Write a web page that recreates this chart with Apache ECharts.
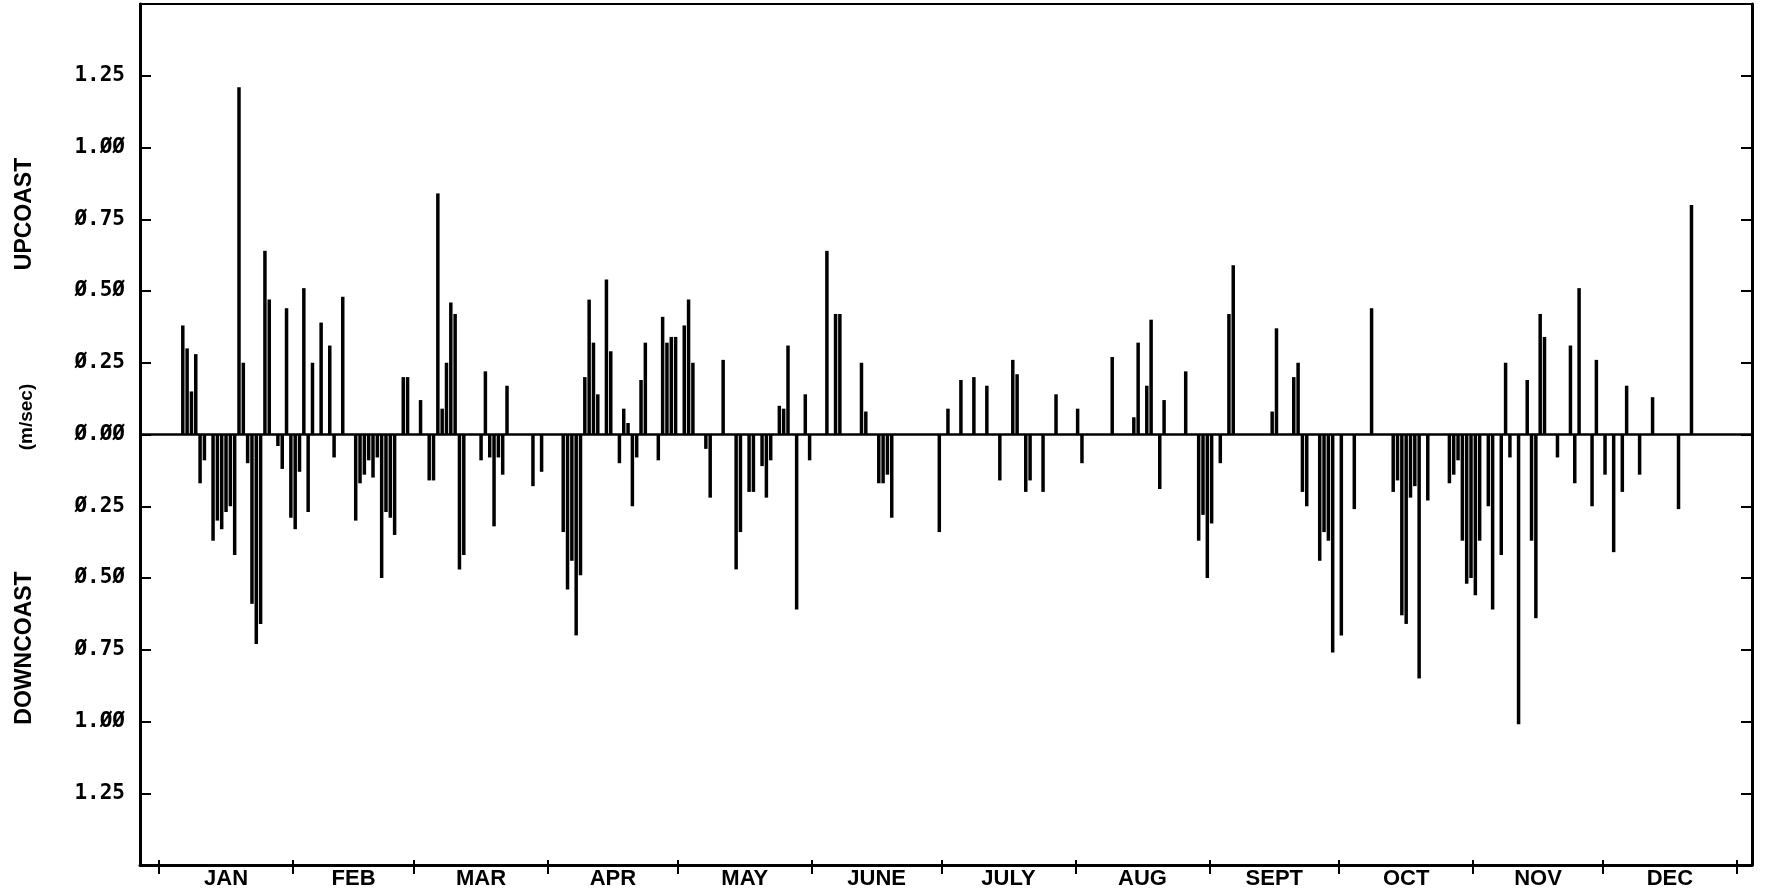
<!DOCTYPE html>
<html>
<head>
<meta charset="utf-8">
<script src="https://cdn.jsdelivr.net/npm/echarts@6/dist/echarts.min.js"></script>
<style>
  html, body { margin: 0; padding: 0; background: #fff; }
  #chart { width: 1766px; height: 895px; }
</style>
</head>
<body>
<div id="chart"></div>
<script>
// Daily mean alongshore current (m/sec); positive = upcoast, negative = downcoast.
// Day index counts from 1 January = 0; days not listed are calm (≈ 0).
const dayOfYear = [
  5, 6, 7, 8, 9, 10, 12, 13, 14, 15, 16, 17, 18, 19, 20, 21, 22, 23, 24, 25,
  27, 28, 29, 30, 31, 32, 33, 34, 35, 37, 39, 40, 42, 45, 46, 47, 48, 49, 50, 51,
  52, 53, 54, 56, 57, 60, 62, 63, 64, 65, 66, 67, 68, 69, 70, 74, 75, 76, 77, 78,
  79, 80, 86, 88, 93, 94, 95, 96, 97, 98, 99, 100, 101, 103, 104, 106, 107, 108, 109, 110,
  111, 112, 115, 116, 117, 118, 119, 121, 122, 123, 126, 127, 130, 133, 134, 136, 137, 139, 140, 141,
  143, 144, 145, 147, 149, 150, 154, 156, 157, 162, 163, 166, 167, 168, 169, 180, 182, 185, 188, 191,
  194, 197, 198, 200, 201, 204, 207, 212, 213, 220, 225, 226, 228, 229, 231, 232, 237, 240, 241, 242,
  243, 245, 247, 248, 257, 258, 262, 263, 264, 265, 268, 269, 270, 271, 273, 276, 280, 285, 286, 287,
  288, 289, 290, 291, 293, 298, 299, 300, 301, 302, 303, 304, 305, 307, 308, 310, 311, 312, 314, 316,
  317, 318, 319, 320, 323, 326, 327, 328, 331, 332, 334, 336, 338, 339, 342, 345, 351, 354
];
const speed = [
  0.38, 0.30, 0.15, 0.28, -0.17, -0.09, -0.37, -0.30, -0.33, -0.27, -0.25, -0.42, 1.21, 0.25, -0.10, -0.59, -0.73, -0.66, 0.64, 0.47,
  -0.04, -0.12, 0.44, -0.29, -0.33, -0.13, 0.51, -0.27, 0.25, 0.39, 0.31, -0.08, 0.48, -0.30, -0.17, -0.14, -0.09, -0.15, -0.08, -0.50,
  -0.27, -0.29, -0.35, 0.20, 0.20, 0.12, -0.16, -0.16, 0.84, 0.09, 0.25, 0.46, 0.42, -0.47, -0.42, -0.09, 0.22, -0.08, -0.32, -0.08,
  -0.14, 0.17, -0.18, -0.13, -0.34, -0.54, -0.44, -0.70, -0.49, 0.20, 0.47, 0.32, 0.14, 0.54, 0.29, -0.10, 0.09, 0.04, -0.25, -0.08,
  0.19, 0.32, -0.09, 0.41, 0.32, 0.34, 0.34, 0.38, 0.47, 0.25, -0.05, -0.22, 0.26, -0.47, -0.34, -0.20, -0.20, -0.11, -0.22, -0.09,
  0.10, 0.09, 0.31, -0.61, 0.14, -0.09, 0.64, 0.42, 0.42, 0.25, 0.08, -0.17, -0.17, -0.14, -0.29, -0.34, 0.09, 0.19, 0.20, 0.17,
  -0.16, 0.26, 0.21, -0.20, -0.16, -0.20, 0.14, 0.09, -0.10, 0.27, 0.06, 0.32, 0.17, 0.40, -0.19, 0.12, 0.22, -0.37, -0.28, -0.50,
  -0.31, -0.10, 0.42, 0.59, 0.08, 0.37, 0.20, 0.25, -0.20, -0.25, -0.44, -0.34, -0.37, -0.76, -0.70, -0.26, 0.44, -0.20, -0.16, -0.63,
  -0.66, -0.22, -0.18, -0.85, -0.23, -0.17, -0.14, -0.09, -0.37, -0.52, -0.50, -0.56, -0.37, -0.25, -0.61, -0.42, 0.25, -0.08, -1.01, 0.19,
  -0.37, -0.64, 0.42, 0.34, -0.08, 0.31, -0.17, 0.51, -0.25, 0.26, -0.14, -0.41, -0.20, 0.17, -0.14, 0.13, -0.26, 0.80
];

// Month boundaries (day index) and their labels.
const monthStartDays = [0, 31, 59, 90, 120, 151, 181, 212, 243, 273, 304, 334, 365];
const monthNames = ['JAN', 'FEB', 'MAR', 'APR', 'MAY', 'JUNE', 'JULY', 'AUG', 'SEPT', 'OCT', 'NOV', 'DEC'];

// Speed tick marks; labels show magnitude only, zeros drawn slashed.
const speedTicks = [-1.25, -1.0, -0.75, -0.5, -0.25, 0, 0.25, 0.5, 0.75, 1.0, 1.25];

const monthMid = monthNames.map((_, i) => (monthStartDays[i] + monthStartDays[i + 1]) / 2);
const barData = dayOfYear.map((d, i) => [d + 0.5, speed[i]]);

const chart = echarts.init(document.getElementById('chart'), null, { renderer: 'canvas' });

const plotterFont = "'Liberation Sans', 'DejaVu Sans', sans-serif";
const monoFont = "'DejaVu Sans Mono', 'Liberation Mono', monospace";

chart.setOption({
  animation: false,
  backgroundColor: '#fff',
  grid: {
    left: 140, right: 14, top: 4, bottom: 30,
    show: true, borderColor: '#000', borderWidth: 2, backgroundColor: 'transparent'
  },
  xAxis: [
    {
      type: 'value', min: -4.4, max: 368.5, position: 'bottom',
      axisLine: { show: true, onZero: false, lineStyle: { color: '#000', width: 3 } },
      axisTick: { show: true, customValues: monthStartDays, inside: false, length: 9, lineStyle: { color: '#000', width: 2 } },
      axisLabel: {
        customValues: monthMid,
        formatter: v => {
          const i = monthMid.findIndex(m => Math.abs(m - v) < 0.01);
          return i >= 0 ? monthNames[i] : '';
        },
        color: '#000', fontFamily: plotterFont, fontWeight: 'bold', fontSize: 22, margin: 3
      },
      splitLine: { show: false }
    },
    {
      type: 'value', min: -4.4, max: 368.5, position: 'bottom',
      axisLine: { show: false, onZero: false },
      axisTick: { show: true, customValues: monthStartDays, inside: true, length: 5, lineStyle: { color: '#000', width: 2 } },
      axisLabel: { show: false },
      splitLine: { show: false }
    }
  ],
  yAxis: [
    {
      type: 'value', min: -1.5, max: 1.5, position: 'left',
      axisLine: { show: true, onZero: false, lineStyle: { color: '#000', width: 3 } },
      axisTick: { show: true, customValues: speedTicks, inside: true, length: 11, lineStyle: { color: '#000', width: 2 } },
      axisLabel: {
        customValues: speedTicks,
        formatter: v => Math.abs(v).toFixed(2).replace(/0/g, 'Ø'),
        color: '#000', fontFamily: monoFont, fontWeight: 'bold', fontSize: 21, margin: 15
      },
      splitLine: { show: false }
    },
    {
      type: 'value', min: -1.5, max: 1.5, position: 'right',
      axisLine: { show: true, onZero: false, lineStyle: { color: '#000', width: 3 } },
      axisTick: { show: true, customValues: speedTicks, inside: true, length: 11, lineStyle: { color: '#000', width: 2 } },
      axisLabel: { show: false },
      splitLine: { show: false }
    }
  ],
  series: [
    {
      type: 'bar',
      xAxisIndex: 0, yAxisIndex: 0,
      data: barData,
      barWidth: 3.5,
      itemStyle: { color: '#000' },
      silent: true,
      markLine: {
        silent: true, symbol: 'none', label: { show: false },
        lineStyle: { color: '#000', width: 2.5, type: 'solid' },
        data: [{ yAxis: 0 }]
      }
    }
  ],
  graphic: [
    {
      type: 'text', x: 25, y: 214, rotation: Math.PI / 2,
      style: { text: 'UPCOAST', font: "bold 23px " + plotterFont, fill: '#000', align: 'center', verticalAlign: 'middle' }
    },
    {
      type: 'text', x: 27, y: 417, rotation: Math.PI / 2,
      style: { text: '(m/sec)', font: "bold 19px " + plotterFont, fill: '#000', align: 'center', verticalAlign: 'middle' }
    },
    {
      type: 'text', x: 25, y: 648, rotation: Math.PI / 2,
      style: { text: 'DOWNCOAST', font: "bold 23px " + plotterFont, fill: '#000', align: 'center', verticalAlign: 'middle' }
    }
  ]
});
</script>
</body>
</html>
